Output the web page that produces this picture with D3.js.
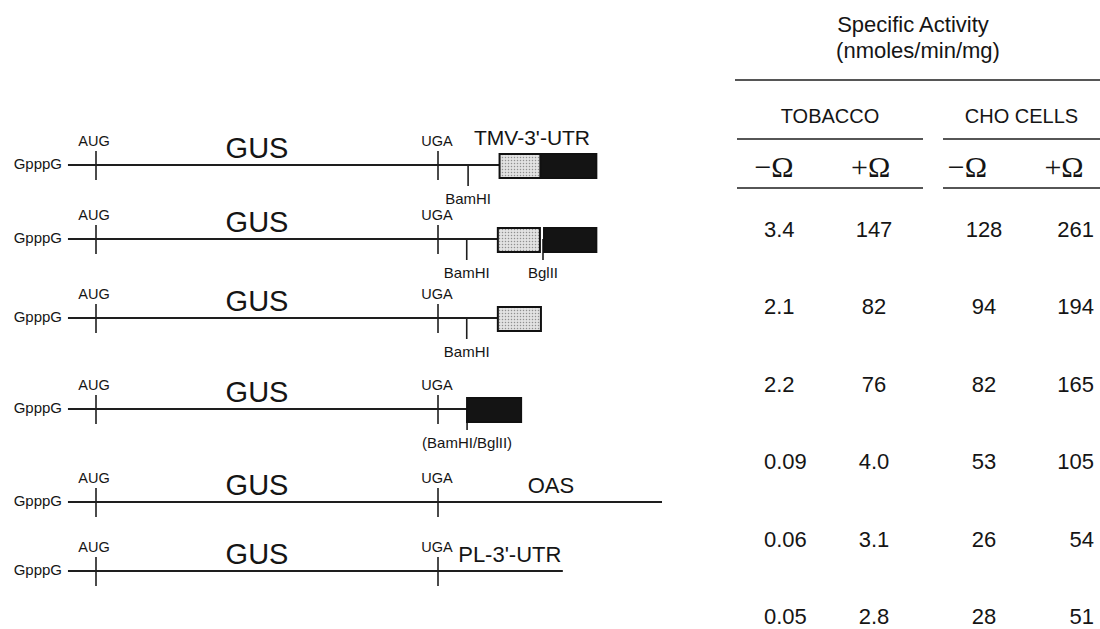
<!DOCTYPE html>
<html>
<head>
<meta charset="utf-8">
<script src="https://cdn.jsdelivr.net/npm/d3@7"></script>
<style>
  body { margin: 0; background: #fff; }
  text { font-family: "Liberation Sans", Arial, Helvetica, sans-serif; fill: #151515; }
  text.omega { font-family: "Liberation Serif", "Times New Roman", serif; }
</style>
</head>
<body>
<svg id="fig" width="1100" height="629"></svg>
<script>
// ---- constructs (schematic units along the transcript: AUG = 0, UGA = 100) ----
const capPos = -8.2;
const augPos = 0;
const ugaPos = 100;
const transcriptEnds = [118, 118, 118, 108.5, 165.5, 136.5];
const utrLabels = ["TMV-3'-UTR", "", "", "", "OAS", "PL-3'-UTR"];
const utrLabelPos = [127.5, 0, 0, 0, 133, 121];

// pk = pseudoknot domain (stippled), tls = tRNA-like structure (solid)
const utrBoxes = [
  { row: 0, from: 118, to: 130, kind: "pk" },
  { row: 0, from: 130, to: 146.3, kind: "tls" },
  { row: 1, from: 117.5, to: 129.8, kind: "pk" },
  { row: 1, from: 131, to: 146.3, kind: "tls" },
  { row: 2, from: 117.5, to: 130.1, kind: "pk" },
  { row: 3, from: 108.5, to: 124.3, kind: "tls" }
];

const sites = [
  { row: 0, pos: 108.8, name: "BamHI" },
  { row: 1, pos: 108.4, name: "BamHI" },
  { row: 1, pos: 130.7, name: "BglII" },
  { row: 2, pos: 108.4, name: "BamHI" },
  { row: 3, pos: 108.5, name: "(BamHI/BglII)" }
];

// ---- specific activity table ----
const titleLines = ["Specific Activity", "(nmoles/min/mg)"];
const groupLabels = ["TOBACCO", "CHO CELLS"];
const omegaLabels = ["\u2212\u03A9", "+\u03A9", "\u2212\u03A9", "+\u03A9"];
const tobaccoMinus = ["3.4", "2.1", "2.2", "0.09", "0.06", "0.05"];
const tobaccoPlus = ["147", "82", "76", "4.0", "3.1", "2.8"];
const choMinus = ["128", "94", "82", "53", "26", "28"];
const choPlus = ["261", "194", "165", "105", "54", "51"];

const svg = d3.select("#fig");
const ink = "#1e1e1e";

svg.append("defs").append("pattern")
  .attr("id", "stipple")
  .attr("width", 3).attr("height", 3)
  .attr("patternUnits", "userSpaceOnUse")
  .call(p => {
    p.append("rect").attr("width", 3).attr("height", 3).attr("fill", "#e2e2e2");
    p.append("circle").attr("cx", 1.5).attr("cy", 1.5).attr("r", 0.75).attr("fill", "#909090");
  });

// scales
const x = d3.scaleLinear().domain([augPos, ugaPos]).range([96, 438]);
const yRow = d3.scaleLinear().domain(d3.range(6)).range([165, 239, 318, 409, 502, 571]);

function addText(g, px, py, txt, size, anchor, cls) {
  const t = g.append("text")
    .attr("x", px).attr("y", py)
    .attr("text-anchor", anchor || "middle")
    .style("font-size", size + "px")
    .text(txt);
  if (cls) t.attr("class", cls);
  return t;
}

function vtick(g, px, y1, y2) {
  g.append("line")
    .attr("x1", px).attr("x2", px)
    .attr("y1", y1).attr("y2", y2)
    .attr("stroke", ink).attr("stroke-width", 1.6);
}

// ---- draw constructs ----
const left = svg.append("g").attr("class", "constructs");

transcriptEnds.forEach((end, i) => {
  const y = yRow(i);
  const g = left.append("g");

  addText(g, 62, y + 4, "GpppG", 15, "end");

  g.append("line")
    .attr("x1", x(capPos)).attr("x2", x(end))
    .attr("y1", y).attr("y2", y)
    .attr("stroke", ink).attr("stroke-width", 2);

  vtick(g, x(augPos), y - 14, y + 15);
  vtick(g, x(ugaPos), y - 14, y + 15);
  addText(g, x(augPos) - 2, y - 19, "AUG", 14.5);
  addText(g, x(ugaPos) - 1, y - 19, "UGA", 14.5);
  addText(g, 257, y - 7, "GUS", 29);

  // restriction sites under the line
  sites.filter(s => s.row === i).forEach(s => {
    vtick(g, x(s.pos), y, y + 21);
    addText(g, x(s.pos), y + 39, s.name, 15);
  });

  // 3' UTR boxes
  const boxes = utrBoxes.filter(b => b.row === i);
  boxes.forEach(b => {
    g.append("rect")
      .attr("x", x(b.from)).attr("y", y - 11)
      .attr("width", x(b.to) - x(b.from)).attr("height", 24)
      .attr("fill", b.kind === "pk" ? "url(#stipple)" : "#141414")
      .attr("stroke", "#111").attr("stroke-width", 2);
  });

  if (utrLabels[i]) {
    const ly = boxes.length ? y - 20 : y - 9;
    addText(g, x(utrLabelPos[i]), ly, utrLabels[i], i === 0 ? 21 : 22);
  }
});

// ---- draw table ----
const tbl = svg.append("g").attr("class", "table");

titleLines.forEach((t, i) => {
  addText(tbl, i === 0 ? 913 : 918, i === 0 ? 32 : 58, t, 22);
});

function hrule(x1, x2, y) {
  tbl.append("line")
    .attr("x1", x1).attr("x2", x2)
    .attr("y1", y).attr("y2", y)
    .attr("stroke", ink).attr("stroke-width", 1.6);
}

hrule(735, 1100, 80);

const groupBand = d3.scaleBand()
  .domain(groupLabels)
  .range([737, 1129])
  .paddingInner(0.097);

groupLabels.forEach(gl => {
  const x0 = groupBand(gl);
  const x1 = Math.min(x0 + groupBand.bandwidth(), 1100);
  hrule(x0, x1, 139);
  hrule(x0, x1, 188);
  addText(tbl, (x0 + x1) / 2, 123, gl, 20);
});

const omegaX = d3.scalePoint().domain(d3.range(4)).range([774, 1064]);
omegaLabels.forEach((o, i) => {
  addText(tbl, omegaX(i), 177, o, 30, "middle", "omega");
});

const columns = [tobaccoMinus, tobaccoPlus, choMinus, choPlus];
const colAnchor = ["start", "middle", "middle", "end"];
const colX = d3.scalePoint().domain(d3.range(4)).range([764, 1094]);
const rowY = d3.scaleLinear().domain([0, 5]).range([237, 624]);

columns.forEach((col, c) => {
  tbl.append("g")
    .selectAll("text")
    .data(col)
    .join("text")
    .attr("x", colX(c))
    .attr("y", (d, r) => rowY(r))
    .attr("text-anchor", colAnchor[c])
    .style("font-size", "22px")
    .text(d => d);
});
</script>
</body>
</html>
